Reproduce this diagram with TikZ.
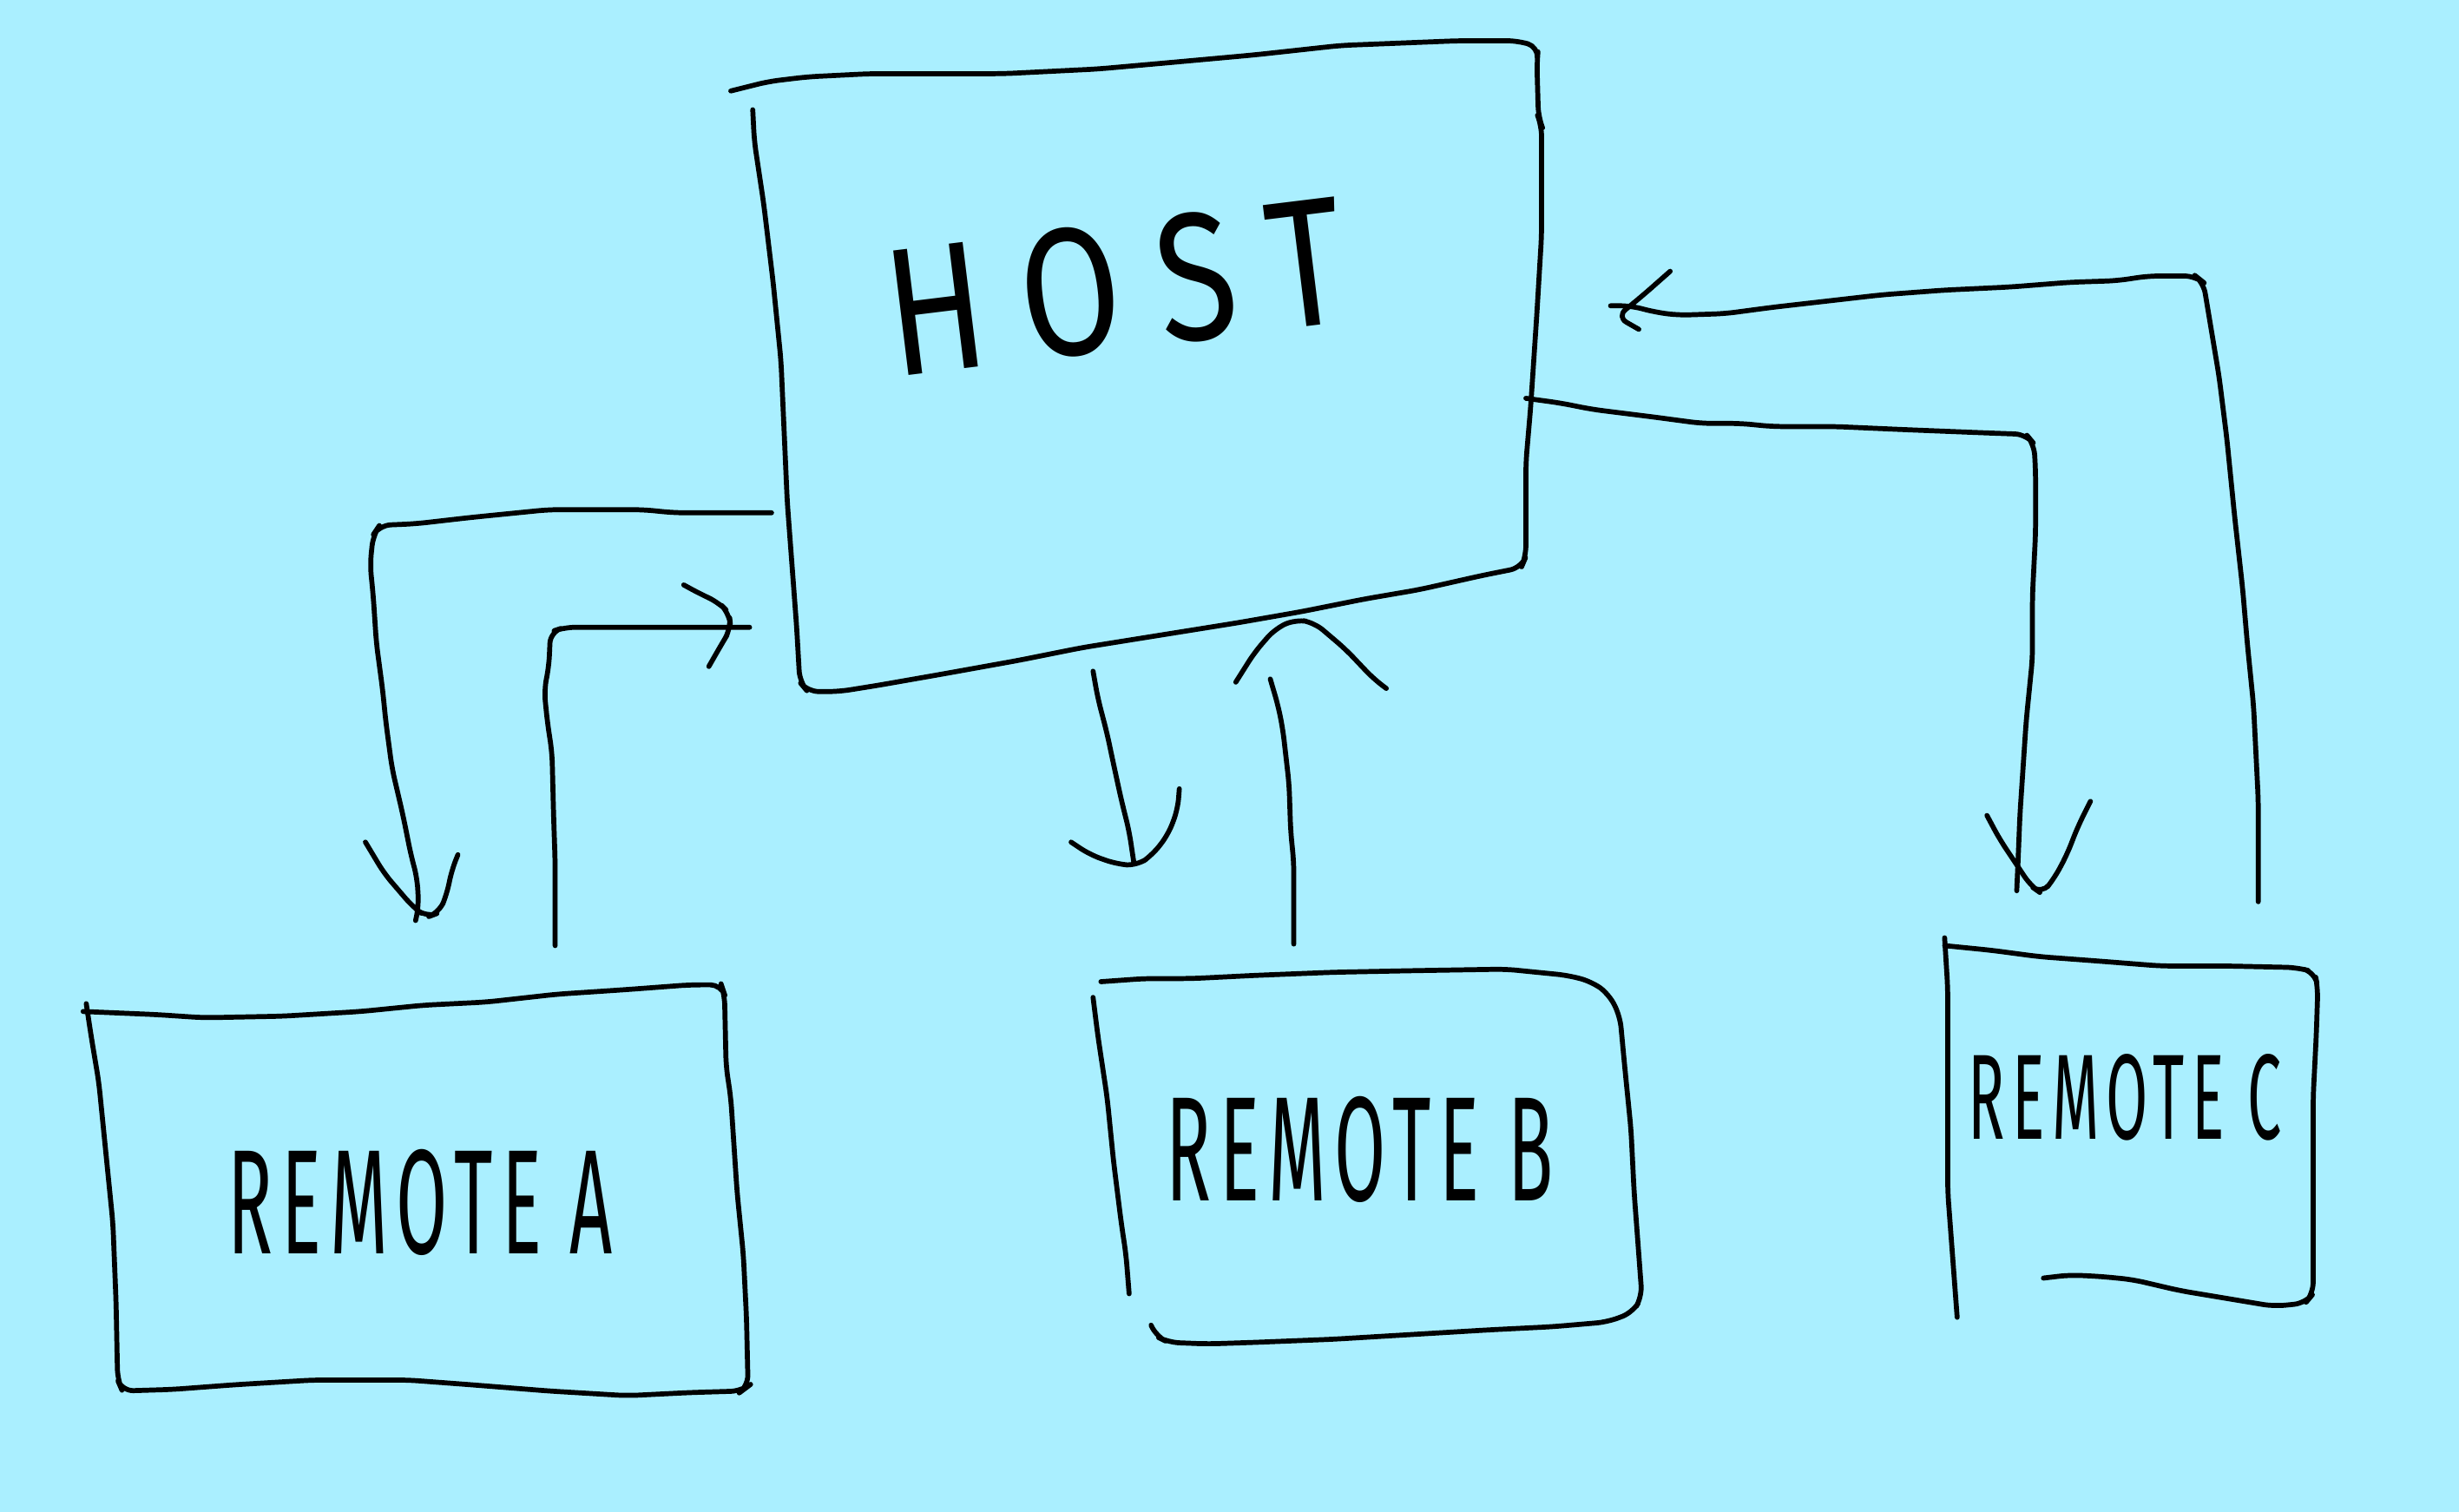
\documentclass[tikz,border=0pt]{standalone}
\usepackage{fontspec}
\newfontfamily\handfont{Fira Sans}[FakeStretch=0.5,LetterSpace=6]
\newfontfamily\hostfont{Fira Sans}[FakeStretch=0.8,LetterSpace=20]
\definecolor{paper}{RGB}{170,239,255}
\tikzset{
  sketch/.style={line width=0.9pt, line cap=round, line join=round, rounded corners=2pt, draw=black},
  label/.style={inner sep=0pt, font=\handfont\fontsize{27}{30}\selectfont},
}
\begin{document}
\begin{tikzpicture}[x=0.01cm, y=-0.01cm]
\fill[paper] (0,0) rectangle (1568,964);
\useasboundingbox (0,0) rectangle (1568,964);

% ---------- HOST box ----------
\draw[sketch] (480,70) -- (481,90) -- (487,130) -- (493,180) -- (498,230) -- (502,320) -- (505,360) -- (508,400) -- (510,435)
  -- (515,441) -- (535,441) -- (560,437) -- (600,430) -- (650,421) -- (690,413) -- (740,405) -- (790,397) -- (830,390) -- (870,382) -- (905,376) -- (945,367) -- (970,362)
  -- (973,355) -- (973,295) -- (976,260) -- (980,200) -- (983,150) -- (983,80) -- (981,75) -- (980,40) -- (981,30)
  -- (968,26) -- (930,26) -- (855,29) -- (800,35) -- (745,40) -- (700,44) -- (640,47) -- (555,47) -- (515,49) -- (490,52) -- (466,58);
\node[inner sep=0pt, rotate=7, font=\hostfont\fontsize{33}{36}\selectfont] (host) at (711,183) {HOST};

% ---------- REMOTE A box ----------
\draw[sketch] (53,645) -- (100,647) -- (130,649) -- (180,648) -- (230,645) -- (270,641) -- (310,639) -- (355,634) -- (400,631) -- (440,628) -- (460,628)
  -- (462,634) -- (463,680) -- (466,700) -- (470,760) -- (474,800) -- (476,840) -- (477,884) -- (473,887)
  -- (440,888) -- (400,890) -- (350,887) -- (300,883) -- (260,880) -- (200,880) -- (150,883) -- (110,886) -- (78,887) -- (75,880)
  -- (74,830) -- (72,780) -- (67,730) -- (63,690) -- (58,660) -- (55,640);
\node[label] (ra) at (268,767) {REMOTE A};

% ---------- REMOTE B box ----------
\draw[sketch] (702,626) -- (730,624) -- (760,624) -- (800,622) -- (850,620) -- (900,619) -- (960,618) -- (1000,622) -- (1015,626) -- (1026,634) -- (1033,648)
  -- (1036,680) -- (1040,720) -- (1042,760) -- (1045,800) -- (1047,827) -- (1041,837) -- (1025,843)
  -- (990,846) -- (950,848) -- (900,851) -- (850,854) -- (800,856) -- (770,857) -- (745,856) -- (737,852) -- (734,845);
\draw[sketch] (697,636) -- (700,660) -- (706,700) -- (710,740) -- (715,780) -- (718,800) -- (720,825);
\node[label] (rb) at (867,733) {REMOTE B};

% ---------- REMOTE C box ----------
\draw[sketch] (1248,840) -- (1245,800) -- (1242,760) -- (1242,700) -- (1242,630) -- (1240,598);
\draw[sketch] (1240,603) -- (1270,606) -- (1300,610) -- (1340,613) -- (1378,616) -- (1420,616) -- (1465,617) -- (1476,620) -- (1478,630)
  -- (1477,660) -- (1475,700) -- (1475,790) -- (1475,825) -- (1470,831)
  -- (1450,833) -- (1420,828) -- (1390,823) -- (1360,816) -- (1340,814) -- (1320,813) -- (1303,815);
\node[label, font=\handfont\fontsize{22}{26}\selectfont] (rc) at (1355,700) {REMOTE C};

% ---------- connector end points ----------
\coordinate (hA1) at (492,327);
\coordinate (aA1) at (265,587);
\coordinate (aA2) at (354,603);
\coordinate (hA2) at (478,400);
\coordinate (hB1) at (697,428);
\coordinate (bB1) at (723,550);
\coordinate (bB2) at (825,602);
\coordinate (hB2) at (810,433);
\coordinate (hC1) at (973,254);
\coordinate (cC1) at (1286,568);
\coordinate (cC2) at (1440,575);
\coordinate (hC2) at (1027,195);

% HOST -> REMOTE A
\draw[sketch] (hA1) -- (430,327) -- (410,325) -- (350,325) -- (300,330) -- (265,334) -- (242,335) -- (238,341) -- (236,360) -- (238,380) -- (240,410) -- (244,440) -- (246,460) -- (250,490) -- (257,520) -- (262,545) -- (266,560) -- (267,578) -- (aA1);
\draw[sketch] (233,537) -- (245,557) -- (263,578) -- (272,585) -- (280,582) -- (285,570) -- (288,555) -- (292,545);

% REMOTE A -> HOST
\draw[sketch] (aA2) -- (354,550) -- (353,520) -- (352,480) -- (349,460) -- (347,440) -- (350,425) -- (351,403) -- (360,400) -- (hA2);
\draw[sketch] (436,373) -- (447,379) -- (458,384) -- (465,391) -- (466,401) -- (460,411) -- (452,425);

% HOST -> REMOTE B
\draw[sketch] (hB1) -- (700,445) -- (706,468) -- (710,487) -- (715,510) -- (720,530) -- (bB1);
\draw[sketch] (683,537) -- (695,545) -- (712,551) -- (725,552) -- (735,545) -- (745,532) -- (751,516) -- (752,503);

% REMOTE B -> HOST
\draw[sketch] (bB2) -- (825,550) -- (823,530) -- (822,500) -- (818,465) -- (815,450) -- (hB2);
\draw[sketch] (788,435) -- (800,416) -- (813,401) -- (826,395) -- (838,397) -- (858,414) -- (876,433) -- (884,439);

% HOST -> REMOTE C
\draw[sketch] (hC1) -- (995,257) -- (1015,261) -- (1055,266) -- (1085,270) -- (1110,270) -- (1130,272) -- (1170,272) -- (1215,274) -- (1265,276) -- (1292,277) -- (1297,283) -- (1298,300) -- (1298,340) -- (1296,380) -- (1296,420) -- (1292,460) -- (1290,490) -- (1288,520) -- (1287,545) -- (cC1);
\draw[sketch] (1267,520) -- (1275,535) -- (1285,550) -- (1295,565) -- (1302,570) -- (1310,560) -- (1318,545) -- (1325,527) -- (1333,511);

% REMOTE C -> HOST
\draw[sketch] (cC2) -- (1440,510) -- (1437,450) -- (1433,410) -- (1430,375) -- (1425,330) -- (1420,280) -- (1415,240) -- (1410,210) -- (1405,180) -- (1400,176) -- (1370,176) -- (1350,179) -- (1320,180) -- (1282,183) -- (1240,185) -- (1200,188) -- (1165,192) -- (1130,196) -- (1100,200) -- (1070,201) -- (1055,199) -- (1040,195) -- (hC2);
\draw[sketch] (1065,173) -- (1048,188) -- (1031,202) -- (1045,210);
\end{tikzpicture}
\end{document}
